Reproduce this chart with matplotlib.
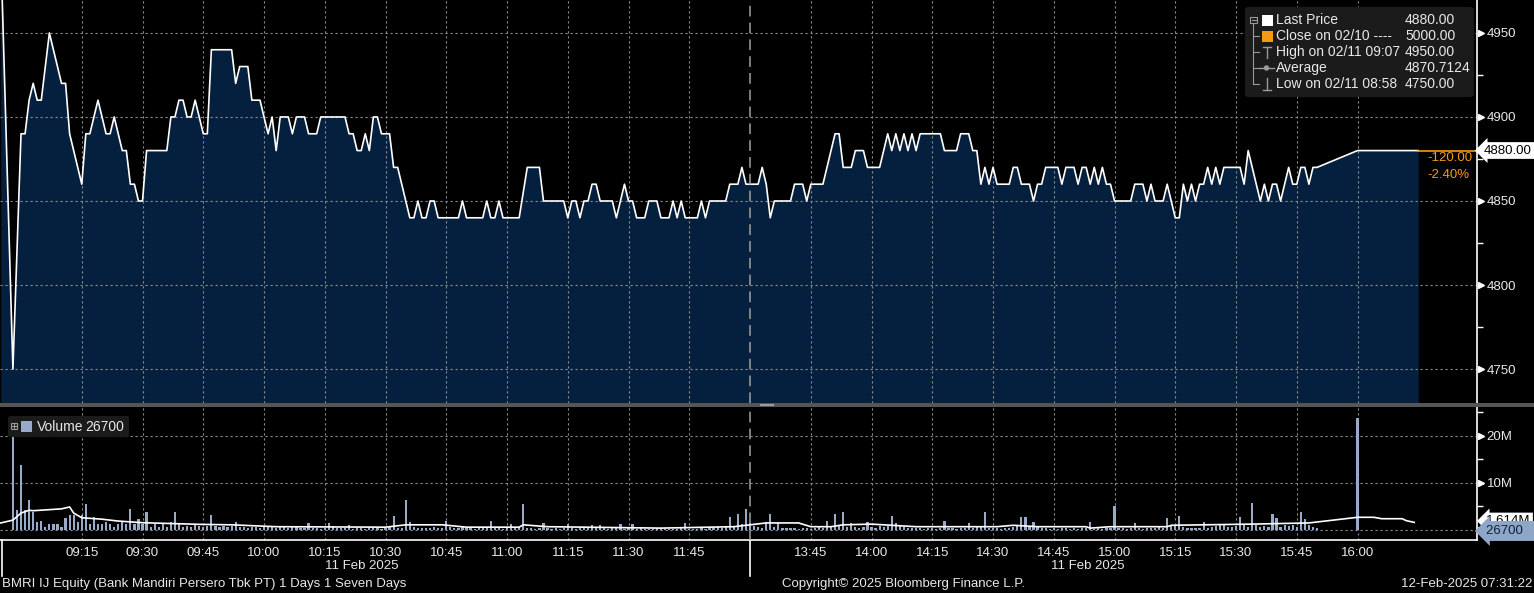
import matplotlib
matplotlib.use("Agg")
import matplotlib.pyplot as plt
import matplotlib.transforms as mtransforms
from matplotlib.patches import Rectangle, FancyBboxPatch, Circle
import numpy as np

plt.rcParams["font.family"] = ["Liberation Sans", "DejaVu Sans"]

# ---- data ----
prev_close = 5000.0
last_price = 4880.0
high_price, high_time = 4950.0, "09:07"
low_price, low_time = 4750.0, "08:58"
avg_price = 4870.7124
last_volume = 26700
vol_ma_last = 1.614

price_time = [
    "08:55", "08:58", "09:00", "09:01", "09:02", "09:03", "09:04", "09:05", "09:07", "09:10",
    "09:11", "09:12", "09:15", "09:16", "09:17", "09:19", "09:21", "09:22", "09:23", "09:25",
    "09:26", "09:27", "09:28", "09:29", "09:30", "09:31", "09:36", "09:37", "09:38", "09:39",
    "09:40", "09:41", "09:42", "09:43", "09:45", "09:46", "09:47", "09:52", "09:53", "09:54",
    "09:56", "09:57", "09:59", "10:01", "10:02", "10:03", "10:04", "10:06", "10:07", "10:08",
    "10:10", "10:11", "10:13", "10:14", "10:20", "10:21", "10:22", "10:23", "10:24", "10:25",
    "10:26", "10:27", "10:28", "10:29", "10:31", "10:32", "10:33", "10:36", "10:37", "10:38",
    "10:39", "10:40", "10:41", "10:42", "10:43", "10:48", "10:49", "10:50", "10:54", "10:55",
    "10:56", "10:57", "10:58", "10:59", "11:03", "11:05", "11:08", "11:09", "11:14", "11:15",
    "11:16", "11:17", "11:18", "11:19", "11:20", "11:21", "11:22", "11:23", "11:26", "11:27",
    "11:29", "11:30", "11:31", "11:32", "11:34", "11:35", "11:37", "11:38", "11:40", "11:41",
    "11:42", "11:43", "11:44", "11:47", "11:48", "11:49", "11:50", "11:54", "11:55", "11:57",
    "11:58", "11:59", "13:32", "13:33", "13:34", "13:35", "13:36", "13:40", "13:41", "13:43",
    "13:44", "13:45", "13:48", "13:51", "13:52", "13:53", "13:55", "13:56", "13:58", "13:59",
    "14:02", "14:03", "14:04", "14:05", "14:06", "14:07", "14:08", "14:09", "14:10", "14:11",
    "14:12", "14:17", "14:18", "14:21", "14:22", "14:24", "14:25", "14:26", "14:27", "14:28",
    "14:29", "14:30", "14:31", "14:34", "14:35", "14:36", "14:37", "14:39", "14:40", "14:41",
    "14:42", "14:43", "14:46", "14:47", "14:48", "14:50", "14:51", "14:52", "14:53", "14:54",
    "14:55", "14:56", "14:57", "14:58", "14:59", "15:00", "15:04", "15:05", "15:07", "15:08",
    "15:09", "15:10", "15:12", "15:13", "15:14", "15:15", "15:16", "15:17", "15:18", "15:19",
    "15:20", "15:21", "15:22", "15:23", "15:24", "15:25", "15:26", "15:27", "15:31", "15:32",
    "15:33", "15:36", "15:37", "15:38", "15:39", "15:40", "15:41", "15:43", "15:44", "15:45",
    "15:46", "15:47", "15:48", "15:49", "15:50", "16:00", "16:15",
]
price_last = [
    5000, 4750, 4890, 4890, 4910, 4920, 4910, 4910, 4950, 4920,
    4920, 4890, 4860, 4890, 4890, 4910, 4890, 4890, 4900, 4880,
    4880, 4860, 4860, 4850, 4850, 4880, 4880, 4900, 4900, 4910,
    4910, 4900, 4900, 4910, 4890, 4890, 4940, 4940, 4920, 4930,
    4930, 4910, 4910, 4890, 4900, 4880, 4900, 4900, 4890, 4900,
    4900, 4890, 4890, 4900, 4900, 4890, 4890, 4880, 4880, 4890,
    4880, 4900, 4900, 4890, 4890, 4870, 4870, 4840, 4840, 4850,
    4840, 4840, 4850, 4850, 4840, 4840, 4850, 4840, 4840, 4850,
    4840, 4840, 4850, 4840, 4840, 4870, 4870, 4850, 4850, 4840,
    4850, 4850, 4840, 4850, 4850, 4860, 4860, 4850, 4850, 4840,
    4860, 4850, 4850, 4840, 4840, 4850, 4850, 4840, 4840, 4850,
    4840, 4850, 4840, 4840, 4850, 4840, 4850, 4850, 4860, 4860,
    4870, 4860, 4860, 4870, 4860, 4840, 4850, 4850, 4860, 4860,
    4850, 4860, 4860, 4890, 4890, 4870, 4870, 4880, 4880, 4870,
    4870, 4880, 4890, 4880, 4890, 4880, 4890, 4880, 4890, 4880,
    4890, 4890, 4880, 4880, 4890, 4890, 4880, 4880, 4860, 4870,
    4860, 4870, 4860, 4860, 4870, 4870, 4860, 4860, 4850, 4860,
    4860, 4870, 4870, 4860, 4870, 4870, 4860, 4870, 4870, 4860,
    4870, 4860, 4870, 4860, 4860, 4850, 4850, 4860, 4860, 4850,
    4860, 4850, 4850, 4860, 4850, 4840, 4840, 4860, 4850, 4860,
    4850, 4860, 4860, 4870, 4860, 4870, 4860, 4870, 4870, 4860,
    4880, 4850, 4860, 4850, 4860, 4860, 4850, 4870, 4860, 4860,
    4870, 4870, 4860, 4870, 4870, 4880, 4880,
]

# one bar per minute, millions of shares
vol_am_start = "08:58"
vol_am = [
    20.0, 4.3,
    13.8, 4.3, 6.4, 3.9, 1.8, 1.9, 0.7, 1.2, 1.2, 1.2,
    0.7, 2.6, 3.2, 3.2, 1.6, 3.2, 5.5, 1.2, 2.7, 1.2,
    1.2, 1.8, 1.2, 0.7, 1.2, 1.8, 1.2, 4.4, 1.2, 2.3,
    1.2, 3.8, 0.7, 1.2, 0.7, 1.2, 0.7, 1.8, 3.8, 1.2,
    0.7, 0.9, 0.6, 1.0, 0.8, 0.7, 0.9, 3.2, 0.8, 0.7,
    0.9, 0.6, 0.8, 1.8, 0.7, 0.6, 0.5, 0.6, 0.7, 0.5,
    0.6, 0.8, 0.7, 0.5, 0.9, 0.6, 0.5, 0.7, 0.6, 0.4,
    0.5, 1.4, 0.4, 0.5, 0.3, 0.4, 1.4, 0.8, 0.4, 0.5,
    0.4, 1.0, 0.3, 0.4, 0.5, 0.3, 0.4, 0.4, 0.5, 0.3,
    0.4, 0.6, 2.9, 0.5, 0.4, 6.4, 1.8, 0.6, 0.5, 0.4,
    0.5, 0.4, 0.6, 0.4, 0.5, 1.9, 0.6, 0.5, 0.4, 0.6,
    0.4, 0.5, 0.3, 0.4, 0.6, 0.4, 1.9, 0.5, 0.4, 0.3,
    0.5, 1.2, 0.4, 0.6, 5.5, 0.5, 0.4, 0.3, 0.5, 1.4,
    0.4, 0.3, 0.4, 0.3, 0.5, 1.2, 0.4, 0.3, 0.4, 0.5,
    0.4, 1.0, 0.5, 1.0, 0.4, 0.3, 0.5, 0.4, 1.2, 0.3,
    0.4, 1.2, 0.3, 0.4, 0.3, 0.2, 0.3, 0.4, 0.3, 0.2,
    0.3, 0.2, 0.3, 0.4, 1.4, 0.3, 0.2, 0.3, 0.4, 0.3,
    0.4, 0.5, 0.6, 0.5, 0.8, 2.7, 0.9, 3.5, 1.2, 4.4,
]
vol_pm_start = "13:30"
vol_pm = [
    1.5, 0.8, 0.6, 0.5, 1.8, 3.4, 0.6, 1.4, 0.5, 0.4,
    0.5, 0.4, 0.3, 0.5, 0.4, 0.3, 0.5, 0.6, 0.4, 2.0,
    0.8, 3.4, 0.9, 3.8, 0.7, 1.4, 0.6, 0.5, 0.7, 1.6,
    0.6, 0.5, 0.8, 0.6, 0.9, 3.0, 1.4, 0.9, 0.6, 0.5,
    0.4, 0.5, 0.4, 0.3, 0.5, 0.4, 0.3, 0.4, 1.9, 0.5,
    0.4, 0.3, 0.5, 0.4, 1.4, 0.5, 0.6, 0.7, 3.8, 0.5,
    0.4, 0.5, 0.3, 0.4, 0.5, 0.6, 0.8, 2.8, 2.8, 0.9,
    1.6, 0.7, 0.5, 0.4, 0.3, 0.4, 0.3, 0.4, 0.5, 0.3,
    0.4, 0.3, 0.5, 0.4, 1.6, 0.3, 0.4, 0.3, 0.5, 0.4,
    5.1, 0.5, 0.4, 0.3, 0.4, 1.4, 0.5, 0.3, 0.4, 0.5,
    0.4, 0.6, 0.5, 2.6, 0.8, 0.9, 2.9, 0.6, 0.5, 0.4,
    0.5, 0.4, 1.6, 0.5, 0.6, 0.8, 1.2, 1.2, 0.7, 0.6,
    0.8, 2.8, 1.2, 0.7, 5.7, 1.0, 0.6, 0.8, 0.7, 3.4,
    2.6, 0.7, 1.0, 0.8, 1.0, 0.7, 3.9, 2.4, 1.0, 0.6,
    0.5,
]
vol_close_time, vol_close = "16:00", 23.8

# volume average line
vma_time = ["08:55", "08:58", "09:00", "09:02", "09:03", "09:10", "09:12", "09:13", "09:15", "09:20",
            "09:24", "09:30", "09:44", "09:52", "10:03", "10:30", "10:35", "10:44", "10:50", "11:03",
            "11:04", "11:10", "11:19", "11:38", "11:56", "12:00", "13:34", "13:42", "13:45", "13:50",
            "13:53", "14:00", "14:07", "14:11", "14:31", "14:35", "14:41", "14:53", "14:54", "14:59",
            "15:13", "15:14", "15:34", "15:48", "16:00", "16:04", "16:06", "16:11", "16:12", "16:14"]
vma_val = [1.5, 2.1, 3.6, 4.2, 4.1, 4.5, 4.9, 3.6, 2.6, 2.3,
           1.9, 1.55, 1.2, 1.1, 0.7, 0.6, 1.1, 1.1, 0.6, 0.6,
           1.1, 0.7, 0.6, 0.4, 0.7, 1.1, 1.5, 1.5, 0.7, 0.7,
           1.1, 1.25, 0.9, 0.7, 0.7, 1.0, 0.7, 0.7, 0.4, 0.7,
           0.7, 1.0, 1.25, 1.5, 2.7, 2.7, 2.4, 2.4, 2.0, 1.614]

tick_times = ["09:15", "09:30", "09:45", "10:00", "10:15", "10:30", "10:45", "11:00", "11:15",
              "11:30", "11:45", "13:45", "14:00", "14:15", "14:30", "14:45", "15:00", "15:15",
              "15:30", "15:45", "16:00"]


# session 1 ends 12:00, session 2 starts 13:30 -> lunch gap removed
def tpos(t):
    h, m = t.split(":")
    mins = int(h) * 60 + int(m)
    if mins >= 13 * 60 + 30:
        return 180 + mins - (13 * 60 + 30)
    return mins - 9 * 60


W, H = 1534, 593
BG = "black"
TXT = "#e8e8e8"
NAVY = "#05203f"
ORANGE = "#f39c12"
VOLC = "#97abc9"
GRID = "#8c8c8c"

x_lo, x_hi = -5.19, 359.5

fig = plt.figure(figsize=(W / 100, H / 100), dpi=100, facecolor=BG)
ax_p = fig.add_axes([0, 190 / H, 1477 / W, 403 / H], facecolor=BG)
ax_v = fig.add_axes([0, 53 / H, 1477 / W, 133 / H], facecolor=BG)

# ---- price panel ----
px = [tpos(t) for t in price_time]
p_lo = 4729.8
ax_p.fill_between(px, price_last, p_lo - 20, color=NAVY, lw=0, zorder=1)
ax_p.plot(px, price_last, color="white", lw=1.2, zorder=3)
ax_p.plot([px[-1], x_hi], [last_price, last_price], color=ORANGE, lw=1.2, zorder=3)
ax_p.set_xlim(x_lo, x_hi)
ax_p.set_ylim(p_lo, 4969.6)
ax_p.set_yticks([4750, 4800, 4850, 4900, 4950])
ax_p.set_yticks([4775, 4825, 4875, 4925], minor=True)

# ---- volume panel ----
am_x = tpos(vol_am_start) + np.arange(len(vol_am))
pm_x = tpos(vol_pm_start) + np.arange(len(vol_pm))
ax_v.bar(am_x, vol_am, width=0.55, color=VOLC, lw=0, zorder=2)
ax_v.bar(pm_x, vol_pm, width=0.55, color=VOLC, lw=0, zorder=2)
ax_v.bar([tpos(vol_close_time)], [vol_close], width=0.55, color=VOLC, lw=0, zorder=2)
ax_v.plot([tpos(t) for t in vma_time], vma_val, color="white", lw=1.2, zorder=3)
ax_v.set_xlim(x_lo, x_hi)
ax_v.set_ylim(-2.13, 26.17)
ax_v.set_yticks([0, 10, 20])
ax_v.set_yticklabels(["", "10M", "20M"])
ax_v.set_yticks([5, 15, 25], minor=True)

tick_x = [tpos(t) for t in tick_times]
for ax in (ax_p, ax_v):
    ax.yaxis.tick_right()
    ax.set_xticks(tick_x)
    ax.grid(True, which="major", color=GRID, lw=0.8, ls=(0, (2, 2.5)), zorder=0)
    ax.axvline(180, color="#a0a0a0", lw=1.1, ls=(0, (7, 4)), zorder=4)
    for s in ("left", "top", "bottom"):
        ax.spines[s].set_visible(False)
    ax.spines["right"].set_color("white")
    ax.spines["right"].set_linewidth(1.2)
    ax.tick_params(axis="y", which="major", length=0, pad=7, labelcolor=TXT, labelsize=9.5)
    ax.tick_params(axis="y", which="minor", length=4, width=1, color="white", direction="out")
    # little arrow heads in front of the axis labels
    tr = mtransforms.offset_copy(ax.get_yaxis_transform(), fig=fig, x=3.5, y=0, units="dots")
    ax.plot([1] * len(ax.get_yticks()), ax.get_yticks(), ls="none", marker=">", ms=4.5,
            color="white", transform=tr, clip_on=False, zorder=5)

ax_p.tick_params(axis="x", length=0, labelbottom=False)
ax_v.set_xticklabels(tick_times)
ax_v.tick_params(axis="x", length=0, pad=5, labelcolor=TXT, labelsize=9.5)
ax_v.spines["bottom"].set_visible(True)
ax_v.spines["bottom"].set_color("white")
ax_v.spines["bottom"].set_linewidth(1.2)

# session markers below the time axis
sep_tr = mtransforms.blended_transform_factory(ax_v.transData, ax_v.transAxes)
for xs in (x_lo + 0.4, 180):
    ax_v.plot([xs, xs], [0, -0.27], color="white", lw=1.2, transform=sep_tr, clip_on=False)

# ---- overlay in pixel coordinates for screen furniture ----
ov = fig.add_axes([0, 0, 1, 1])
ov.set_xlim(0, W)
ov.set_ylim(H, 0)
ov.axis("off")
ov.patch.set_alpha(0)

ov.add_patch(Rectangle((0, 402.5), W, 4, color="#555555", lw=0))
ov.plot([760, 773], [403.8, 403.8], color="#9a9a9a", lw=0.8)
ov.plot([760, 773], [405.4, 405.4], color="#9a9a9a", lw=0.8)

fs = 9.5
ov.text(362, 566, "11 Feb 2025", color=TXT, fontsize=fs, ha="center", va="center")
ov.text(1088, 566, "11 Feb 2025", color=TXT, fontsize=fs, ha="center", va="center")
ov.text(2, 584, "BMRI IJ Equity (Bank Mandiri Persero Tbk PT) 1 Days 1 Seven Days",
        color=TXT, fontsize=fs, ha="left", va="center")
ov.text(904, 584, "Copyright\u00a9 2025 Bloomberg Finance L.P.", color=TXT, fontsize=fs,
        ha="center", va="center")
ov.text(1532, 584, "12-Feb-2025 07:31:22", color=TXT, fontsize=fs, ha="right", va="center")

# last price flag and change
ov.text(1484, 150.5, f"{last_price:.2f}", color="black", fontsize=fs, ha="left", va="center",
        bbox=dict(boxstyle="larrow,pad=0.18", fc="white", ec="none"))
chg = last_price - prev_close
ov.text(1427, 158, f"{chg:.2f}", color=ORANGE, fontsize=fs, ha="left", va="center")
ov.text(1427, 175, f"{chg / prev_close * 100:.2f}%", color=ORANGE, fontsize=fs, ha="left", va="center")

# volume flags (average label mostly hidden behind the last volume flag)
ov.text(1486, 521, f"{vol_ma_last:.3f}M", color="black", fontsize=fs, ha="left", va="center",
        bbox=dict(boxstyle="larrow,pad=0.18", fc="white", ec="none"))
ov.text(1486, 531, f"{last_volume}  ", color="#10203a", fontsize=fs, ha="left", va="center",
        bbox=dict(boxstyle="larrow,pad=0.3", fc="#8ea6c8", ec="none"))

# price legend
ov.add_patch(FancyBboxPatch((1245, 7), 229, 90, boxstyle="round,pad=0,rounding_size=3",
                            fc="#1b1b1b", ec="none"))
rows = [20, 36, 52, 68, 84]
gray = "#9a9a9a"
ov.add_patch(Rectangle((1250, 16.5), 6.5, 6.5, fc="none", ec=gray, lw=0.8))
ov.plot([1251.5, 1255.5], [19.75, 19.75], color=gray, lw=0.8)
ov.plot([1253.2, 1253.2], [23, 84], color=gray, lw=0.8)
for r in rows[1:]:
    ov.plot([1253.2, 1259], [r, r], color=gray, lw=0.8)
ov.add_patch(Rectangle((1261.5, 14.5), 11, 11, color="white", lw=0))
ov.add_patch(Rectangle((1261.5, 30.5), 11, 11, color=ORANGE, lw=0))
ov.plot([1263, 1271], [46.5, 46.5], color=gray, lw=1)
ov.plot([1267, 1267], [46.5, 58], color=gray, lw=1)
ov.plot([1259, 1274], [68, 68], color=gray, lw=1)
ov.add_patch(Circle((1266.5, 68), 2, color=gray))
ov.plot([1267, 1267], [78, 89.5], color=gray, lw=1)
ov.plot([1263, 1271], [89.5, 89.5], color=gray, lw=1)

leg_names = ["Last Price", "Close on 02/10 ----", f"High on 02/11 {high_time}", "Average",
             f"Low on 02/11 {low_time}"]
leg_vals = [f"{last_price:.2f}", f"{prev_close:.2f}", f"{high_price:.2f}", f"{avg_price:.4f}",
            f"{low_price:.2f}"]
for r, name, val in zip(rows, leg_names, leg_vals):
    ov.text(1276, r, name, color=TXT, fontsize=10, ha="left", va="center")
    ov.text(1405, r, val, color=TXT, fontsize=10, ha="left", va="center")

# volume legend
ov.add_patch(FancyBboxPatch((8, 416), 121, 21, boxstyle="round,pad=0,rounding_size=2",
                            fc="#1b1b1b", ec="none"))
ov.add_patch(Rectangle((10.5, 422.5), 6.5, 6.5, fc="none", ec=gray, lw=0.8))
ov.plot([11.8, 15.8], [425.75, 425.75], color=gray, lw=0.8)
ov.plot([13.8, 13.8], [423.8, 427.8], color=gray, lw=0.8)
ov.add_patch(Rectangle((21, 421), 11, 11, color=VOLC, lw=0))
ov.text(37, 427, "Volume", color=TXT, fontsize=10, ha="left", va="center")
ov.text(85, 427, f"{last_volume}", color=TXT, fontsize=10, ha="left", va="center")

fig.savefig("out.png", dpi=100, facecolor=BG)
